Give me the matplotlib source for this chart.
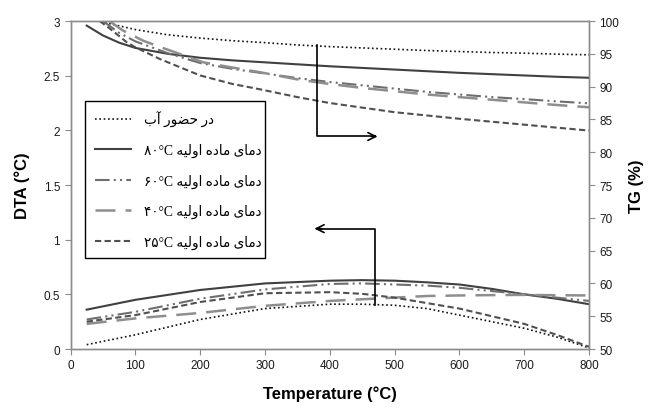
import matplotlib
matplotlib.use("Agg")
import matplotlib.pyplot as plt

# ---------------- data ----------------
# TG (%) curves, right axis
tg_water_T = [40, 60, 100, 150, 200, 250, 300, 350, 400, 450, 500, 550, 600, 650, 700, 750, 800]
tg_water   = [100.0, 99.6, 98.7, 97.9, 97.4, 97.0, 96.7, 96.35, 96.1, 95.9, 95.7, 95.5, 95.35, 95.2, 95.1, 94.95, 94.85]

tg_80_T = [25, 50, 75, 100, 150, 200, 250, 300, 350, 400, 450, 500, 550, 600, 650, 700, 750, 800]
tg_80   = [99.3, 97.8, 96.7, 95.9, 95.0, 94.4, 94.0, 93.7, 93.4, 93.1, 92.85, 92.6, 92.35, 92.1, 91.9, 91.7, 91.5, 91.35]

tg_60_T = [50, 75, 100, 150, 200, 250, 300, 350, 400, 450, 500, 550, 600, 650, 700, 750, 800]
tg_60   = [100.0, 98.2, 96.9, 95.1, 93.6, 92.7, 92.0, 91.3, 90.7, 90.2, 89.7, 89.2, 88.8, 88.4, 88.1, 87.75, 87.45]

tg_40_T = [60, 80, 112, 148, 205, 250, 292, 350, 400, 450, 500, 550, 600, 650, 700, 750, 800]
tg_40   = [100.0, 98.6, 97.0, 95.7, 93.7, 92.9, 92.2, 91.1, 90.4, 89.8, 89.3, 88.8, 88.4, 88.0, 87.6, 87.2, 86.85]

tg_25_T = [45, 60, 87, 100, 138, 200, 250, 292, 350, 400, 450, 500, 550, 600, 650, 700, 750, 800]
tg_25   = [100.0, 98.9, 96.75, 96.0, 94.2, 91.7, 90.4, 89.6, 88.4, 87.5, 86.8, 86.1, 85.6, 85.1, 84.65, 84.2, 83.75, 83.3]

# DTA (°C) curves, left axis
dta_T = [25, 100, 200, 300, 400, 450, 500, 550, 600, 650, 700, 750, 800]
dta_water = [0.04, 0.13, 0.27, 0.37, 0.41, 0.41, 0.40, 0.37, 0.31, 0.25, 0.19, 0.11, 0.01]
dta_80    = [0.36, 0.45, 0.54, 0.60, 0.625, 0.63, 0.625, 0.61, 0.59, 0.55, 0.50, 0.46, 0.41]
dta_60    = [0.27, 0.34, 0.46, 0.545, 0.595, 0.60, 0.59, 0.58, 0.56, 0.53, 0.50, 0.47, 0.44]
dta_40    = [0.23, 0.28, 0.33, 0.395, 0.44, 0.455, 0.47, 0.485, 0.49, 0.493, 0.495, 0.492, 0.49]
dta_25    = [0.25, 0.31, 0.43, 0.51, 0.52, 0.505, 0.47, 0.42, 0.37, 0.30, 0.23, 0.13, 0.02]

label_water = "در حضور آب"
label_prefix = "دمای ماده اولیه"
label_temps = ["۸۰", "۶۰", "۴۰", "۲۵"]

x_ticks = [0, 100, 200, 300, 400, 500, 600, 700, 800]
y_left_ticks = [0, 0.5, 1, 1.5, 2, 2.5, 3]
y_left_labels = ["0", "0.5", "1", "1.5", "2", "2.5", "3"]
y_right_ticks = [50, 55, 60, 65, 70, 75, 80, 85, 90, 95, 100]

# ---------------- minimal Persian shaping (matplotlib has no complex text layout) ----------------
FORMS = {  # iso, fin, ini, med
    "\u0627": ("\uFE8D", "\uFE8E", None, None),
    "\u0622": ("\uFE81", "\uFE82", None, None),
    "\u0628": ("\uFE8F", "\uFE90", "\uFE91", "\uFE92"),
    "\u062D": ("\uFEA1", "\uFEA2", "\uFEA3", "\uFEA4"),
    "\u062F": ("\uFEA9", "\uFEAA", None, None),
    "\u0631": ("\uFEAD", "\uFEAE", None, None),
    "\u0636": ("\uFEBD", "\uFEBE", "\uFEBF", "\uFEC0"),
    "\u0644": ("\uFEDD", "\uFEDE", "\uFEDF", "\uFEE0"),
    "\u0645": ("\uFEE1", "\uFEE2", "\uFEE3", "\uFEE4"),
    "\u0647": ("\uFEE9", "\uFEEA", "\uFEEB", "\uFEEC"),
    "\u0648": ("\uFEED", "\uFEEE", None, None),
    "\u06CC": ("\uFBFC", "\uFBFD", "\uFBFE", "\uFBFF"),
}


def shape_rtl(text):
    out = []
    n = len(text)
    for i, ch in enumerate(text):
        if ch not in FORMS:
            out.append(ch)
            continue
        prev = text[i - 1] if i > 0 else None
        nxt = text[i + 1] if i + 1 < n else None
        jp = prev in FORMS and FORMS[prev][2] is not None
        jn = nxt in FORMS and FORMS[ch][2] is not None
        iso, fin, ini, med = FORMS[ch]
        if jp and jn:
            out.append(med)
        elif jp:
            out.append(fin)
        elif jn:
            out.append(ini)
        else:
            out.append(iso)
    return "".join(reversed(out))


labels = [shape_rtl(label_water)] + [t + "°C " + shape_rtl(label_prefix) for t in label_temps]

# ---------------- figure ----------------
plt.rcParams["font.family"] = ["Liberation Sans", "DejaVu Sans"]
fig = plt.figure(figsize=(6.51, 4.10), dpi=100)
ax = fig.add_axes([0.1083, 0.1463, 0.7965, 0.8])
ax2 = ax.twinx()

grey_spine = "#8c8c8c"
styles = [
    dict(color="#111111", lw=1.2, ls=(0, (1, 1.6))),
    dict(color="#404040", lw=1.5, ls="-"),
    dict(color="#6e6e6e", lw=1.5, ls=(0, (7, 2, 1, 2, 1, 2))),
    dict(color="#8e8e8e", lw=1.8, ls=(0, (8, 4))),
    dict(color="#505050", lw=1.5, ls=(0, (3, 1.6))),
]

dta_series = [dta_water, dta_80, dta_60, dta_40, dta_25]
for vals, st in zip(dta_series, styles):
    ax.plot(dta_T, vals, **st)

tg_series = [(tg_water_T, tg_water), (tg_80_T, tg_80), (tg_60_T, tg_60), (tg_40_T, tg_40), (tg_25_T, tg_25)]
handles = []
for (tt, vals), st, lab in zip(tg_series, styles, labels):
    h, = ax2.plot(tt, vals, label=lab, **st)
    handles.append(h)

ax.set_xlim(0, 800)
ax.set_ylim(0, 3)
ax2.set_ylim(50, 100)
ax.set_xticks(x_ticks)
ax.set_yticks(y_left_ticks)
ax.set_yticklabels(y_left_labels)
ax2.set_yticks(y_right_ticks)

for a in (ax, ax2):
    for s in a.spines.values():
        s.set_color(grey_spine)
        s.set_linewidth(1.0)
    a.tick_params(colors=grey_spine, labelcolor="#1a1a1a", labelsize=8.5, length=4, width=0.8, direction="out")

ax.set_xlabel("Temperature (°C)", fontsize=12, fontweight="bold", labelpad=10)
ax.set_ylabel("DTA (°C)", fontsize=12, fontweight="bold", labelpad=10)
ax2.set_ylabel("TG (%)", fontsize=12, fontweight="bold", labelpad=7)

# arrows pointing to the axis each group belongs to
ax2.plot([380, 380, 470], [96.3, 82.4, 82.4], color="black", lw=1.2)
ax2.annotate("", xy=(478, 82.4), xytext=(460, 82.4),
             arrowprops=dict(arrowstyle="->", color="black", lw=1.2, mutation_scale=14))
ax2.plot([470, 470, 382], [56.7, 68.35, 68.35], color="black", lw=1.2)
ax2.annotate("", xy=(372, 68.35), xytext=(392, 68.35),
             arrowprops=dict(arrowstyle="->", color="black", lw=1.2, mutation_scale=14))

leg = ax2.legend(handles=handles, loc="upper left",
                 bbox_to_anchor=(0.028, 0.268, 0.347, 0.488), mode="expand",
                 borderaxespad=0, frameon=True, fancybox=False, framealpha=1,
                 edgecolor="black", handlelength=2.7, handletextpad=0.9,
                 labelspacing=1.2, borderpad=0.7,
                 prop={"family": ["Liberation Serif", "DejaVu Sans"], "size": 9.8})
leg.get_frame().set_linewidth(1.0)

fig.savefig("out.png", dpi=100)
